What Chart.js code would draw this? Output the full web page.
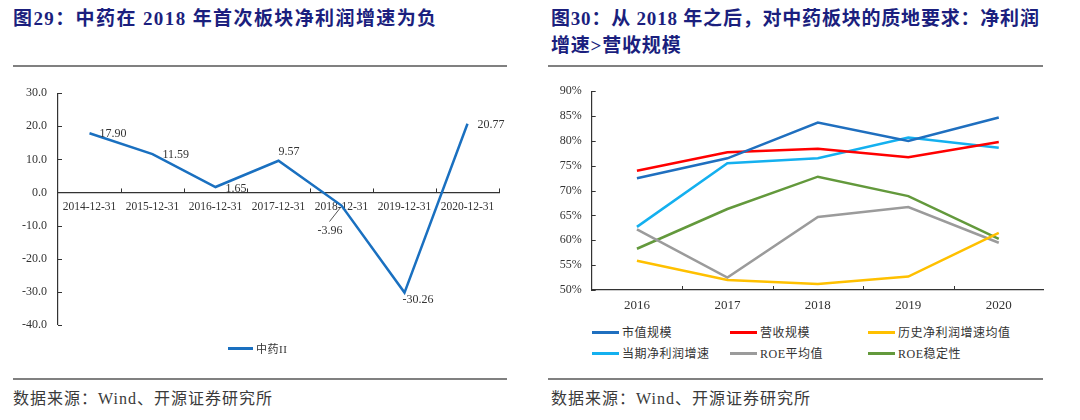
<!DOCTYPE html>
<html>
<head>
<meta charset="utf-8">
<script src="https://cdn.jsdelivr.net/npm/chart.js@4.4.1/dist/chart.umd.min.js"></script>
<style>
  body { margin: 0; width: 1080px; height: 420px; background: #fff; position: relative; overflow: hidden;
         font-family: "Liberation Serif", "Noto Sans CJK SC", serif; }
  .title { position: absolute; color: #1b1f7e; font-weight: bold; font-size: 19px; line-height: 27px;
           font-family: "Liberation Serif", "Noto Sans CJK SC", serif; letter-spacing: 1px; }
  .rule { position: absolute; height: 2px; background: #808080; }
  .source { position: absolute; color: #3a3a3a; font-size: 16px; letter-spacing: 1px;
            font-family: "Liberation Serif", "Noto Sans CJK SC", serif; }
  .box { position: absolute; }
  .legend { position: absolute; font-size: 12px; color: #333;
            font-family: "Liberation Serif", "Noto Sans CJK SC", serif; }
  .legend .item { position: absolute; display: flex; align-items: center; white-space: nowrap; letter-spacing: 0.5px; }
  .legend .swatch { width: 27px; height: 3px; margin-right: 3px; }
</style>
</head>
<body>
<div class="title" style="left:13px; top:5px; letter-spacing:1.4px;">图29：中药在 2018 年首次板块净利润增速为负</div>
<div class="title" style="left:551px; top:5px; letter-spacing:0.8px;">图30：从 2018 年之后，对中药板块的质地要求：净利润<br>增速&gt;营收规模</div>
<div class="rule" style="left:13px; top:65px; width:494px;"></div>
<div class="rule" style="left:548px; top:65px; width:495px;"></div>

<div class="box" style="left:18px; top:75px; width:501px; height:268px;"><canvas id="left"></canvas></div>
<div class="box" style="left:540px; top:74px; width:504px; height:240px;"><canvas id="right"></canvas></div>
<div class="legend" id="leftLegend"></div>
<div class="legend" id="rightLegend"></div>

<div class="rule" style="left:13px; top:378px; width:494px;"></div>
<div class="rule" style="left:548px; top:378px; width:495px;"></div>
<div class="source" style="left:13px; top:385px;">数据来源：Wind、开源证券研究所</div>
<div class="source" style="left:551px; top:385px;">数据来源：Wind、开源证券研究所</div>

<script>
// ---- left chart data ----
const dates = ['2014-12-31', '2015-12-31', '2016-12-31', '2017-12-31', '2018-12-31', '2019-12-31', '2020-12-31'];
const tcmGrowth = [17.90, 11.59, 1.65, 9.57, -3.96, -30.26, 20.77];
const leftLabel = '中药II';

// ---- right chart data ----
const years = ['2016', '2017', '2018', '2019', '2020'];
const marketCap = [72.5, 76.5, 83.7, 80.0, 84.7];
const revenue = [74.0, 77.7, 78.4, 76.7, 79.8];
const histProfitGrowth = [55.9, 52.0, 51.2, 52.7, 61.5];
const curProfitGrowth = [62.7, 75.5, 76.5, 80.7, 78.6];
const roeAvg = [62.2, 52.5, 64.7, 66.7, 59.5];
const roeStability = [58.3, 66.3, 72.8, 68.9, 60.3];
const rightLabels = ['市值规模', '营收规模', '历史净利润增速均值', '当期净利润增速', 'ROE平均值', 'ROE稳定性'];

const tickFont = { family: 'Liberation Serif', size: 12 };
const axisColor = '#333';

// inward tick marks, like the excel source
const innerTicks = {
    id: 'innerTicks',
    afterDraw(chart) {
        const ctx = chart.ctx;
        const x = chart.scales.x, y = chart.scales.y;
        const axisY = chart.options.plugins.innerTicks.zeroAxis ? y.getPixelForValue(0) : chart.chartArea.bottom;
        ctx.save();
        ctx.strokeStyle = axisColor;
        ctx.lineWidth = 1;
        ctx.beginPath();
        y.ticks.forEach(t => {
            const py = Math.round(y.getPixelForValue(t.value)) + 0.5;
            ctx.moveTo(chart.chartArea.left, py);
            ctx.lineTo(chart.chartArea.left + 4, py);
        });
        for (let i = 1; i <= x.ticks.length; i++) {
            const px = Math.round(x.getPixelForValue(i - 0.5)) + 0.5;
            ctx.moveTo(px, axisY);
            ctx.lineTo(px, axisY - 4);
        }
        ctx.stroke();
        ctx.restore();
    }
};

// value labels next to the points of the left chart
const valueLabels = {
    id: 'valueLabels',
    afterDatasetsDraw(chart, args, opts) {
        if (!opts.enabled) return;
        const ctx = chart.ctx;
        const meta = chart.getDatasetMeta(0);
        const values = chart.data.datasets[0].data;
        ctx.save();
        ctx.font = '12px "Liberation Serif"';
        ctx.fillStyle = '#333';
        ctx.textBaseline = 'middle';
        ctx.textAlign = 'left';
        meta.data.forEach((pt, i) => {
            const off = opts.offsets[i];
            ctx.fillText(values[i].toFixed(2), pt.x + off[0], pt.y + off[1]);
            if (off[2]) {
                ctx.strokeStyle = '#555';
                ctx.lineWidth = 1;
                ctx.beginPath();
                ctx.moveTo(pt.x - 12, pt.y + 16);
                ctx.lineTo(pt.x - 1, pt.y + 2);
                ctx.stroke();
            }
        });
        ctx.restore();
    }
};

const leftChart = new Chart(document.getElementById('left'), {
    type: 'line',
    data: {
        labels: dates,
        datasets: [{
            label: leftLabel,
            data: tcmGrowth,
            borderColor: '#1a70c0',
            borderWidth: 2.5,
            pointRadius: 0,
            tension: 0
        }]
    },
    options: {
        responsive: true,
        maintainAspectRatio: false,
        animation: false,
        layout: { padding: { top: 9, bottom: 10, left: 0, right: 20 } },
        plugins: {
            legend: { display: false },
            tooltip: { enabled: false },
            innerTicks: { zeroAxis: true },
            valueLabels: {
                enabled: true,
                offsets: [[10, 1], [10, 1], [10, 1.5], [0, -9], [-24, 25.5, true], [-2, 7], [10, 1]]
            }
        },
        scales: {
            x: {
                position: { y: 0 },
                offset: true,
                grid: { display: true, drawOnChartArea: false, drawTicks: false, offset: true },
                border: { color: axisColor, width: 1.2 },
                ticks: { font: { family: 'Liberation Serif', size: 11.5 }, color: '#333', padding: 8, maxRotation: 0, autoSkip: false }
            },
            y: {
                min: -40,
                max: 30,
                ticks: { stepSize: 10, font: tickFont, color: '#333', padding: 11, callback: v => v.toFixed(1) },
                grid: { display: false, drawTicks: false },
                border: { color: axisColor, width: 1.2 },
                afterFit: s => { s.width = 40; }
            }
        }
    },
    plugins: [innerTicks, valueLabels]
});

const seriesColors = ['#1f6fbf', '#ff0000', '#ffc000', '#14b0ef', '#9b9b9b', '#63993c'];
const seriesData = [marketCap, revenue, histProfitGrowth, curProfitGrowth, roeAvg, roeStability];

const rightChart = new Chart(document.getElementById('right'), {
    type: 'line',
    data: {
        labels: years,
        datasets: rightLabels.map((name, i) => ({
            label: name,
            data: seriesData[i],
            borderColor: seriesColors[i],
            borderWidth: 2.5,
            pointRadius: 0,
            tension: 0
        }))
    },
    options: {
        responsive: true,
        maintainAspectRatio: false,
        animation: false,
        layout: { padding: { top: 10, bottom: 0, left: 0, right: 0 } },
        plugins: {
            legend: { display: false },
            tooltip: { enabled: false },
            innerTicks: { zeroAxis: false },
            valueLabels: { enabled: false }
        },
        scales: {
            x: {
                offset: true,
                grid: { display: true, drawOnChartArea: false, drawTicks: false, offset: true },
                border: { color: axisColor, width: 1.2 },
                ticks: { font: { family: 'Liberation Serif', size: 13 }, color: '#333', padding: 8, maxRotation: 0 },
                afterFit: s => { s.height = 24; }
            },
            y: {
                min: 50,
                max: 90,
                ticks: { stepSize: 5, font: tickFont, color: '#333', padding: 10, callback: v => v + '%' },
                grid: { display: false, drawTicks: false },
                border: { color: axisColor, width: 1.2 },
                afterFit: s => { s.width = 51.7; }
            }
        }
    },
    plugins: [innerTicks, valueLabels]
});

// legends built from the dataset labels / colours
function buildLegend(chart, el, spots) {
    chart.data.datasets.forEach((ds, i) => {
        const item = document.createElement('div');
        item.className = 'item';
        item.style.left = spots[i][0] + 'px';
        item.style.top = (spots[i][1] - 8) + 'px';
        item.style.height = '16px';
        const sw = document.createElement('span');
        sw.className = 'swatch';
        sw.style.background = ds.borderColor;
        const tx = document.createElement('span');
        tx.textContent = ds.label;
        item.appendChild(sw);
        item.appendChild(tx);
        el.appendChild(item);
    });
}
buildLegend(leftChart, document.getElementById('leftLegend'), [[228, 348]]);
document.querySelector('#leftLegend .swatch').style.width = '25px';
document.querySelector('#leftLegend .item').style.fontSize = '11px';
buildLegend(rightChart, document.getElementById('rightLegend'),
    [[592, 332], [730, 332], [868, 332], [592, 353], [730, 353], [868, 353]]);
</script>
</body>
</html>
